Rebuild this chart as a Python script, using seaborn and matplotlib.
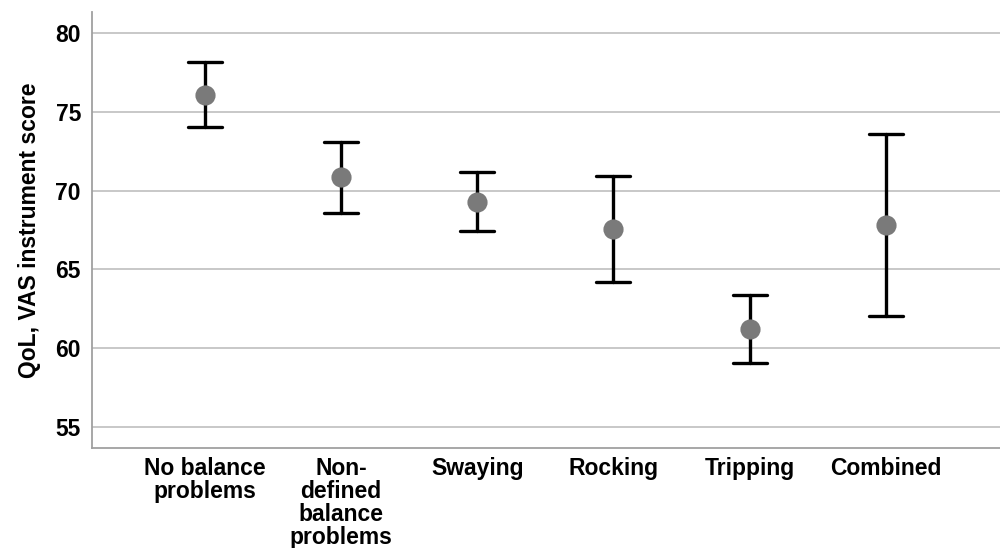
import matplotlib
matplotlib.use("Agg")
import matplotlib.pyplot as plt
import seaborn as sns
import pandas as pd

categories = ["No balance\nproblems", "Non-\ndefined\nbalance\nproblems", "Swaying",
              "Rocking", "Tripping", "Combined"]
means = [76.1, 70.85, 69.3, 67.55, 61.2, 67.8]
lower = [74.05, 68.6, 67.45, 64.2, 59.05, 62.05]
upper = [78.2, 73.1, 71.2, 70.95, 63.4, 73.6]
y_ticks = [55, 60, 65, 70, 75, 80]

rows = []
for c, lo, m, hi in zip(categories, lower, means, upper):
    for v in (lo, m, hi):
        rows.append({"group": c, "score": v})
df = pd.DataFrame(rows)

sns.set_theme(style="white")
plt.rcParams["font.family"] = ["Liberation Sans", "DejaVu Sans"]
plt.rcParams["font.weight"] = "bold"
plt.rcParams["text.color"] = "black"
plt.rcParams["axes.labelcolor"] = "black"
plt.rcParams["xtick.color"] = "black"
plt.rcParams["ytick.color"] = "black"

fig = plt.figure(figsize=(10, 5.48), dpi=100)
ax = fig.add_axes([0.092, 0.182, 0.908, 0.796])

sns.pointplot(data=df, x="group", y="score", order=categories,
              estimator="median", errorbar=lambda x: (x.min(), x.max()),
              linestyle="none", marker="o", markersize=12.5, color="#7a7a7a",
              capsize=0.25, err_kws={"linewidth": 2.4, "color": "black"},
              ax=ax, zorder=3)

for coll in ax.collections:
    coll.set_zorder(4)
for line in ax.lines:
    if line.get_marker() == "o":
        line.set_zorder(5)

ax.set_ylim(53.63, 81.35)
ax.set_xlim(-0.83, 5.84)
ax.set_yticks(y_ticks)
ax.yaxis.grid(True, color="#c4c4c4", linewidth=1.3)
ax.set_axisbelow(True)
for s in ("top", "right"):
    ax.spines[s].set_visible(False)
for s in ("left", "bottom"):
    ax.spines[s].set_color("#a0a0a0")
    ax.spines[s].set_linewidth(1.3)
ax.tick_params(axis="both", length=0, labelsize=16.5, colors="black")
ax.tick_params(axis="y", pad=8)
ax.tick_params(axis="x", pad=6)
for lbl in ax.get_xticklabels():
    lbl.set_fontweight("bold")
    lbl.set_linespacing(1.0)
for lbl in ax.get_yticklabels():
    lbl.set_fontweight("bold")
ax.set_xlabel("")
ax.set_ylabel("QoL, VAS instrument score", fontsize=16.5, fontweight="bold",
              labelpad=10, color="black")

fig.savefig("out.png", dpi=100, facecolor="white")
